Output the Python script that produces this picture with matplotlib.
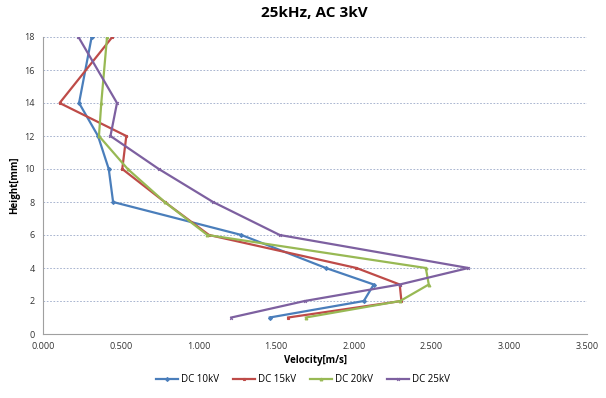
import matplotlib
matplotlib.use("Agg")
import matplotlib.pyplot as plt
from matplotlib.ticker import FormatStrFormatter, MultipleLocator

plt.rcParams['font.family'] = ['Open Sans', 'DejaVu Sans']

heights = [1, 2, 3, 4, 6, 8, 10, 12, 14, 18]
dc10 = [1.459, 2.064, 2.128, 1.820, 1.277, 0.451, 0.423, 0.354, 0.232, 0.313]
dc15 = [1.577, 2.306, 2.295, 2.017, 1.068, 0.783, 0.510, 0.536, 0.107, 0.446]
dc20 = [1.691, 2.298, 2.482, 2.463, 1.058, 0.783, 0.545, 0.360, 0.375, 0.412]
dc25 = [1.212, 1.684, 2.295, 2.737, 1.523, 1.094, 0.745, 0.434, 0.476, 0.228]

labels = ['DC 10kV', 'DC 15kV', 'DC 20kV', 'DC 25kV']
colors = ['#4A7EBB', '#BE4B48', '#98B954', '#7D60A0']
markers = ['D', 's', '^', 'x']

fig = plt.figure(figsize=(6.06, 3.98), dpi=100)
ax = fig.add_axes([43/606, 1-334/398, 544/606, 297/398])

for vals, lab, c, m in zip([dc10, dc15, dc20, dc25], labels, colors, markers):
    ax.plot(vals, heights, color=c, lw=1.6, marker=m, ms=2.0, mew=0.8, label=lab)

ax.set_xlim(0, 3.5)
ax.set_ylim(0, 18)
ax.xaxis.set_major_locator(MultipleLocator(0.5))
ax.yaxis.set_major_locator(MultipleLocator(2))
ax.xaxis.set_major_formatter(FormatStrFormatter('%.3f'))
ax.grid(axis='y', color='#9AA8C8', ls=(0, (2, 2)), lw=0.6)
ax.set_axisbelow(True)
for s in ['top', 'right']:
    ax.spines[s].set_visible(False)
for s in ['left', 'bottom']:
    ax.spines[s].set_color('#A0A0A0')
ax.tick_params(length=0, labelsize=6.5, colors='#333333', pad=6)

ax.set_xlabel('Velocity[m/s]', fontsize=7, fontweight='bold', labelpad=3)
ax.set_ylabel('Height[mm]', fontsize=7, fontweight='bold', labelpad=3)
fig.suptitle('25kHz, AC 3kV', x=0.518, y=0.985, fontsize=11, fontweight='bold')

fig.legend(loc='center', bbox_to_anchor=(0.5, 1-380/398), ncol=4, frameon=False,
           fontsize=7, handlelength=2.2, columnspacing=1.5, handletextpad=0.3)

fig.savefig('out.png', dpi=100)
